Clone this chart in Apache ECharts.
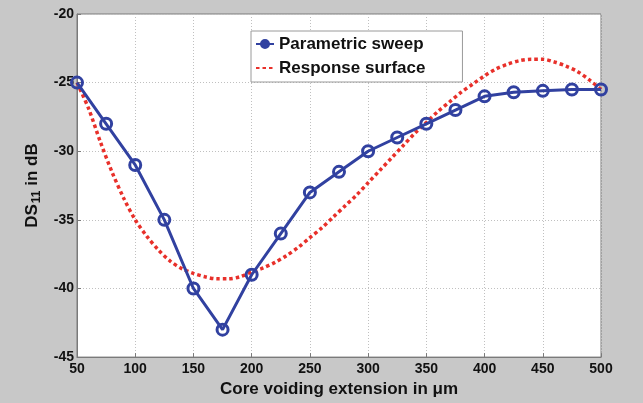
<!DOCTYPE html>
<html>
<head>
<meta charset="utf-8">
<script src="https://cdn.jsdelivr.net/npm/echarts@6/dist/echarts.min.js"></script>
<style>
html,body{margin:0;padding:0;background:#c8c8c8;}
#chart{width:643px;height:403px;}
</style>
</head>
<body>
<div id="chart"></div>
<script>
// Parametric sweep (x in µm, y in dB)
var sweepX = [50, 75, 100, 125, 150, 175, 200, 225, 250, 275, 300, 325, 350, 375, 400, 425, 450, 475, 500];
var sweepY = [-25, -28, -31, -35, -40, -43, -39, -36, -33, -31.5, -30, -29, -28, -27, -26, -25.7, -25.6, -25.5, -25.5];

// Response surface
var surfX = [50, 60, 70, 80, 90, 100, 110, 120, 130, 140, 150, 160, 170, 180, 190, 200, 210, 220, 230, 240, 250,
             260, 270, 280, 290, 300, 310, 320, 330, 340, 350, 360, 370, 380, 390, 400, 410, 420, 430, 440, 450,
             460, 470, 480, 490, 500];
var surfY = [-25.0, -26.9, -29.3, -31.5, -33.4, -35.0, -36.2, -37.2, -38.0, -38.55, -38.9, -39.15, -39.3, -39.3, -39.15, -38.8, -38.5, -38.1, -37.6, -37.0, -36.3,
             -35.6, -34.8, -34.0, -33.2, -32.3, -31.4, -30.5, -29.6, -28.7, -27.9, -27.1, -26.4, -25.7, -25.1, -24.5, -24.0, -23.65, -23.4, -23.3, -23.3,
             -23.5, -23.8, -24.2, -24.8, -25.5];

var xTicks = [50, 100, 150, 200, 250, 300, 350, 400, 450, 500];
var yTicks = [-45, -40, -35, -30, -25, -20];

var seriesNames = ['Parametric sweep', 'Response surface'];

function zip(a, b) { return a.map(function (v, i) { return [v, b[i]]; }); }

var blue = '#3141a0';
var red = '#e8302a';
var font = '"Liberation Sans", Arial, sans-serif';

var chart = echarts.init(document.getElementById('chart'));
chart.setOption({
  backgroundColor: '#c8c8c8',
  animation: false,
  grid: {
    left: 77, right: 42, top: 14, bottom: 42,
    show: true, backgroundColor: '#ffffff', borderColor: '#7a7a7a', borderWidth: 1
  },
  legend: {
    orient: 'vertical',
    left: 251, top: 31,
    padding: [4, 37, 5, 4],
    itemGap: 6,
    itemWidth: 18, itemHeight: 10,
    backgroundColor: '#ffffff',
    borderColor: '#9a9a9a', borderWidth: 1, borderRadius: 0,
    textStyle: { fontFamily: font, fontWeight: 'bold', fontSize: 17, color: '#111', lineHeight: 18 },
    data: [
      { name: seriesNames[0], itemStyle: { color: blue, borderColor: blue, borderWidth: 2 } },
      { name: seriesNames[1], itemStyle: { opacity: 0 } }
    ]
  },
  xAxis: {
    type: 'value', min: 50, max: 500, interval: 50,
    name: 'Core voiding extension in μm',
    nameLocation: 'middle', nameGap: 19,
    nameTextStyle: { fontFamily: font, fontWeight: 'bold', fontSize: 17, color: '#111' },
    axisLine: { show: true, onZero: false, lineStyle: { color: '#7a7a7a' } },
    axisTick: { show: true, inside: true, length: 4, lineStyle: { color: '#7a7a7a' } },
    axisLabel: {
      margin: 5, fontFamily: font, fontWeight: 'bold', fontSize: 14, color: '#111',
      customValues: xTicks
    },
    splitLine: { show: true, lineStyle: { color: '#c0c0c0', type: [1, 2], width: 1 } }
  },
  yAxis: {
    type: 'value', min: -45, max: -20, interval: 5,
    name: '{m|DS}{s|11}{m| in dB}',
    nameLocation: 'middle', nameGap: 31,
    nameTextStyle: {
      fontFamily: font, fontWeight: 'bold', fontSize: 17, color: '#111',
      rich: {
        m: { fontFamily: font, fontWeight: 'bold', fontSize: 17, color: '#111', lineHeight: 22, verticalAlign: 'middle' },
        s: { fontFamily: font, fontWeight: 'bold', fontSize: 12, color: '#111', lineHeight: 22, verticalAlign: 'bottom', padding: [10, 0, 0, 1] }
      }
    },
    axisLine: { show: true, onZero: false, lineStyle: { color: '#7a7a7a' } },
    axisTick: { show: true, inside: true, length: 4, lineStyle: { color: '#7a7a7a' } },
    axisLabel: {
      margin: 3, fontFamily: font, fontWeight: 'bold', fontSize: 14, color: '#111',
      customValues: yTicks
    },
    splitLine: { show: true, lineStyle: { color: '#c0c0c0', type: [1, 2], width: 1 } }
  },
  series: [
    {
      name: seriesNames[0], type: 'line', data: zip(sweepX, sweepY),
      symbol: 'circle', symbolSize: 11,
      lineStyle: { color: blue, width: 3 },
      itemStyle: { color: 'rgba(255,255,255,0)', borderColor: blue, borderWidth: 3 },
      z: 3
    },
    {
      name: seriesNames[1], type: 'line', data: zip(surfX, surfY),
      smooth: 0.3, symbol: 'none',
      lineStyle: { color: red, width: 3.5, type: [3.5, 3], cap: 'butt' },
      itemStyle: { color: red },
      z: 2
    }
  ]
});
</script>
</body>
</html>
